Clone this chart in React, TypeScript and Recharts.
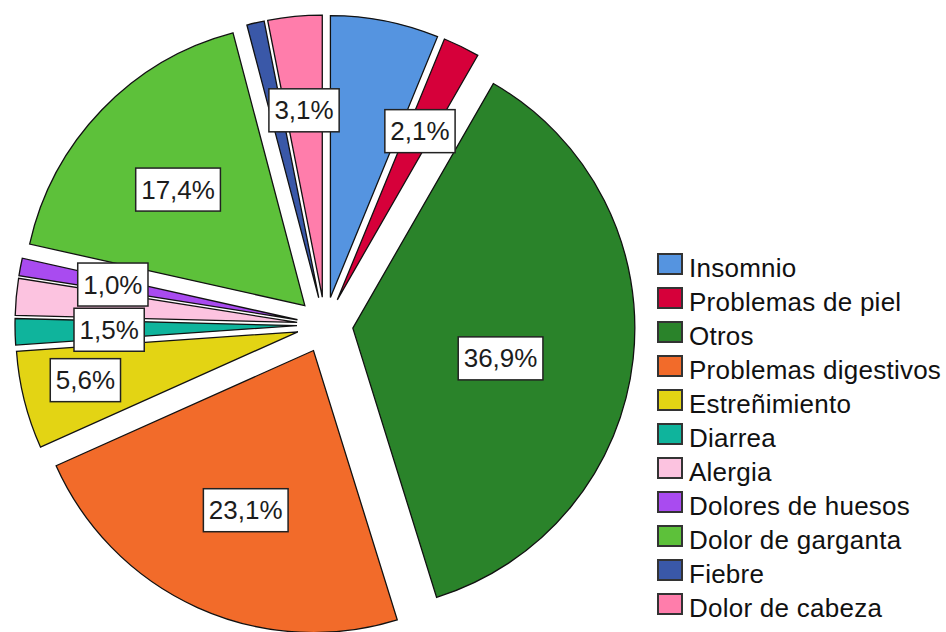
import { PieChart, Pie, Sector, Legend } from 'recharts';

const categories = [
  'Insomnio',
  'Problemas de piel',
  'Otros',
  'Problemas digestivos',
  'Estreñimiento',
  'Diarrea',
  'Alergia',
  'Dolores de huesos',
  'Dolor de garganta',
  'Fiebre',
  'Dolor de cabeza',
];

const percents = [6.2, 2.1, 36.9, 23.1, 5.6, 1.5, 2.1, 1.0, 17.4, 1.0, 3.1];

const COLORS = [
  '#5594e0',
  '#d6003a',
  '#2a832a',
  '#f26b2a',
  '#e3d414',
  '#0fb49c',
  '#fcc3e0',
  '#a94bf0',
  '#5dc13a',
  '#3a58a8',
  '#ff7dab',
];

// labels SPSS dropped because they collided with a neighbour
const hiddenLabels = ['Insomnio', 'Alergia', 'Fiebre'];

const data = categories.map((name, i) => ({ name, value: percents[i] }));

const RADIAN = Math.PI / 180;
const EXPLODE = 28;
const FONT = '"Liberation Sans", Arial, sans-serif';

const labelNudge: Record<string, [number, number]> = {
  Otros: [0, 14],
  'Dolor de garganta': [2, 8],
  'Problemas digestivos': [3, 3],
  'Estreñimiento': [-31, 3],
};

function explodedCenter(cx: number, cy: number, midAngle: number) {
  return [cx + EXPLODE * Math.cos(-midAngle * RADIAN), cy + EXPLODE * Math.sin(-midAngle * RADIAN)];
}

const ExplodedSlice = (props: any) => {
  const { cx, cy, midAngle, outerRadius, startAngle, endAngle, index } = props;
  const [x, y] = explodedCenter(cx, cy, midAngle);
  return (
    <Sector
      cx={x}
      cy={y}
      innerRadius={0}
      outerRadius={outerRadius}
      startAngle={startAngle}
      endAngle={endAngle}
      fill={COLORS[index % COLORS.length]}
      stroke="#111"
      strokeWidth={1.3}
    />
  );
};

function textWidth(s: string, size: number) {
  let w = 0;
  for (const ch of s) {
    if (ch === ',') w += 0.278;
    else if (ch === '%') w += 0.889;
    else w += 0.556;
  }
  return w * size;
}

const PercentLabel = (props: any) => {
  const { cx, cy, midAngle, outerRadius, startAngle, endAngle, value } = props;
  const name = props.payload?.name ?? props.name;
  if (hiddenLabels.includes(name)) return null;
  const [sx, sy] = explodedCenter(cx, cy, midAngle);
  const half = (Math.abs(endAngle - startAngle) / 2) * RADIAN;
  const r = (outerRadius * 2 * Math.sin(half)) / (3 * half);
  const nudge = labelNudge[name] ?? [0, 0];
  const x = sx + r * Math.cos(-midAngle * RADIAN) + nudge[0];
  const y = sy + r * Math.sin(-midAngle * RADIAN) + nudge[1];
  const text = `${Number(value).toFixed(1).replace('.', ',')}%`;
  const w = textWidth(text, 26) + 11;
  const h = 43;
  return (
    <g>
      <rect x={x - w / 2} y={y - h / 2} width={w} height={h} fill="#fff" stroke="#222" strokeWidth={1.5} />
      <text x={x} y={y + 9} textAnchor="middle" fontFamily={FONT} fontSize={26} fill="#1c1c1c">
        {text}
      </text>
    </g>
  );
};

const LegendContent = () => (
  <div style={{ fontFamily: FONT, fontSize: 26, color: '#111', whiteSpace: 'nowrap', letterSpacing: 0.25 }}>
    {categories.map((name, i) => (
      <div key={name} style={{ display: 'flex', alignItems: 'flex-start', height: 34 }}>
        <span
          style={{
            display: 'inline-block',
            boxSizing: 'border-box',
            width: 26,
            height: 22,
            marginTop: 6,
            border: '2px solid #333',
            background: COLORS[i],
          }}
        />
        <span style={{ marginLeft: 6, lineHeight: '34px', position: 'relative', top: 4 }}>{name}</span>
      </div>
    ))}
  </div>
);

export default function App() {
  return (
    <div style={{ position: 'fixed', left: 0, top: 0, background: '#fff' }}>
      <PieChart width={946} height={632} margin={{ top: 0, right: 0, bottom: 0, left: 0 }}>
        <Pie
          data={data}
          dataKey="value"
          nameKey="name"
          cx={325}
          cy={325}
          outerRadius={282}
          startAngle={90}
          endAngle={-270}
          fill="transparent"
          stroke="none"
          labelLine={false}
          label={ExplodedSlice}
          isAnimationActive={false}
        />
        <Pie
          data={data}
          dataKey="value"
          nameKey="name"
          cx={325}
          cy={325}
          outerRadius={282}
          startAngle={90}
          endAngle={-270}
          fill="transparent"
          stroke="none"
          labelLine={false}
          label={PercentLabel}
          legendType="none"
          isAnimationActive={false}
        />
        <Legend
          layout="vertical"
          align="right"
          verticalAlign="top"
          content={LegendContent}
          wrapperStyle={{ left: 657, top: 247, width: 290 }}
        />
      </PieChart>
    </div>
  );
}
